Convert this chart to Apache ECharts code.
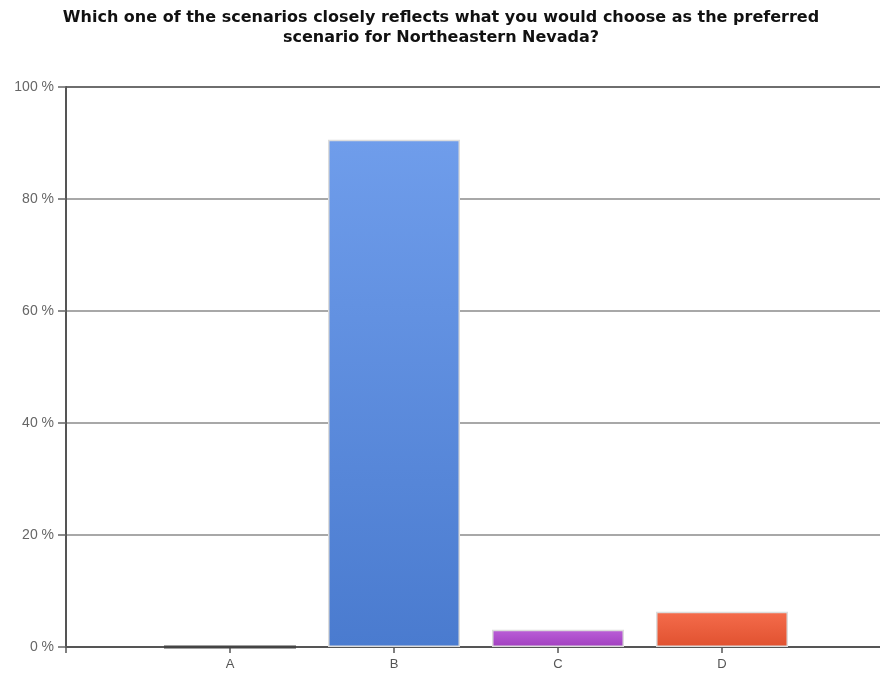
<!DOCTYPE html>
<html>
<head>
<meta charset="utf-8">
<script src="https://cdn.jsdelivr.net/npm/echarts@6/dist/echarts.min.js"></script>
<style>
html,body{margin:0;padding:0;background:#fff;}
#chart{width:880px;height:673px;}
</style>
</head>
<body>
<div id="chart"></div>
<script>
var titleLines = [
  'Which one of the scenarios closely reflects what you would choose as the preferred',
  'scenario for Northeastern Nevada?'
];
var categories = ['A', 'B', 'C', 'D'];
var percentValues = [0, 90.6, 3.1, 6.3];
var yTicks = [0, 20, 40, 60, 80, 100];

var barColors = [
  ['#5a86d8', '#4a78cf'],
  ['#6f9deb', '#4a7bcf'],
  ['#bb5fd8', '#a13fbf'],
  ['#f56c4c', '#e0512f']
];

// padded category list so that ticks are spaced like the reference
var axisCats = [''].concat(categories).concat(['']);
var seriesData = [null].concat(percentValues.map(function (v, i) {
  return {
    value: v,
    itemStyle: {
      color: new echarts.graphic.LinearGradient(0, 0, 0, 1, [
        { offset: 0, color: barColors[i][0] },
        { offset: 1, color: barColors[i][1] }
      ]),
      borderColor: v === 0 ? '#444' : '#dcdcdc',
      borderWidth: v === 0 ? 3 : 1.5
    }
  };
})).concat([null]);

var titleGraphics = titleLines.map(function (line, i) {
  return {
    type: 'text',
    x: 441,
    y: 18 + i * 20,
    style: {
      text: line,
      align: 'center',
      verticalAlign: 'middle',
      font: 'bold 16px "DejaVu Sans", sans-serif',
      fill: '#111'
    }
  };
});

var chart = echarts.init(document.getElementById('chart'), null, { renderer: 'canvas' });
chart.setOption({
  backgroundColor: '#ffffff',
  animation: false,
  graphic: titleGraphics,
  grid: {
    left: 66,
    top: 87,
    width: 820,
    height: 560,
    outerBoundsMode: 'none',
    containLabel: false
  },
  xAxis: {
    type: 'category',
    data: axisCats,
    boundaryGap: false,
    axisLine: { show: true, lineStyle: { color: '#555', width: 2 } },
    axisTick: { show: true, length: 6, lineStyle: { color: '#555', width: 1.5 } },
    axisLabel: {
      color: '#555',
      fontFamily: 'Liberation Sans, Arial, sans-serif',
      fontSize: 13,
      margin: 11
    },
    splitLine: { show: false }
  },
  yAxis: {
    type: 'value',
    min: yTicks[0],
    max: yTicks[yTicks.length - 1],
    interval: yTicks[1] - yTicks[0],
    axisLine: { show: true, lineStyle: { color: '#555', width: 2 } },
    axisTick: { show: true, length: 8, lineStyle: { color: '#666', width: 1.5 } },
    axisLabel: {
      formatter: '{value} %',
      color: '#666',
      fontFamily: 'Liberation Sans, Arial, sans-serif',
      fontSize: 14,
      margin: 12
    },
    splitLine: {
      show: true,
      lineStyle: {
        color: ['#555', '#a8a8a8', '#a8a8a8', '#a8a8a8', '#a8a8a8', '#6e6e6e'],
        width: 2
      }
    }
  },
  series: [{
    type: 'bar',
    data: seriesData,
    barWidth: 132,
    z: 3
  }]
});
</script>
</body>
</html>
